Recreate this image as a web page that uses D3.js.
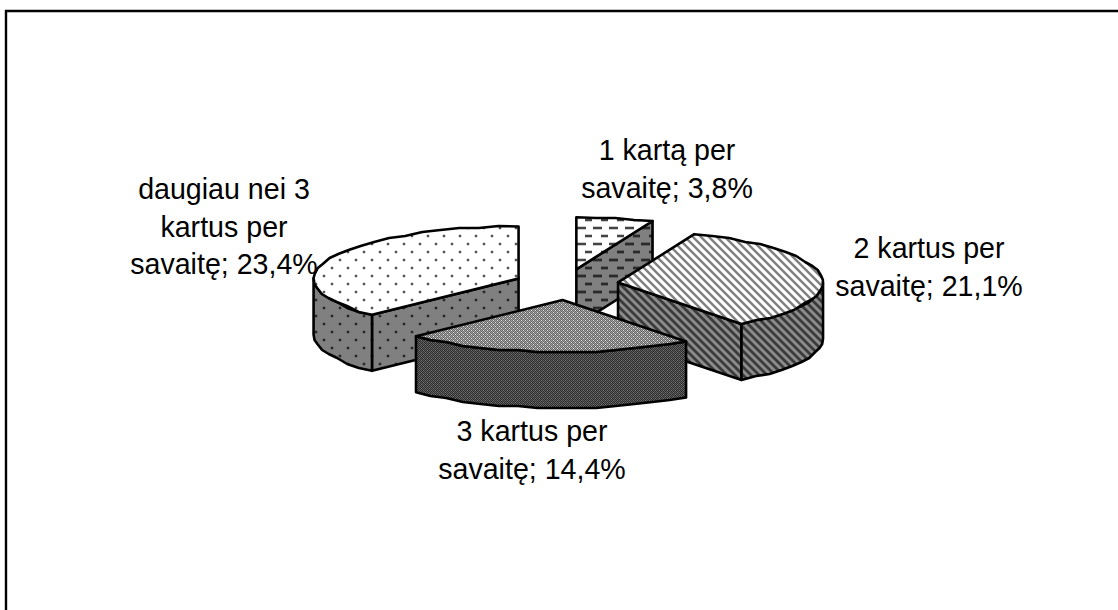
<!DOCTYPE html>
<html><head><meta charset="utf-8">
<script src="https://cdn.jsdelivr.net/npm/d3@7"></script>
<style>html,body{margin:0;padding:0;background:#fff}svg{display:block}</style>
</head><body><svg id="c" width="1118" height="610"></svg>
<script>
const categories = ["1 kartą per savaitę","2 kartus per savaitę","3 kartus per savaitę","daugiau nei 3 kartus per savaitę"];
const values = [3.8,21.1,14.4,23.4];
const valueLabels = ["3,8%","21,1%","14,4%","23,4%"];
const labelLines = [["1 kartą per","savaitę; 3,8%"],["2 kartus per","savaitę; 21,1%"],["3 kartus per","savaitę; 14,4%"],["daugiau nei 3","kartus per","savaitę; 23,4%"]];
const labelX = [667,929,532,224];
const labelY = [160,258,441,199];
const drawOrder = [0,3,1,2];

const W=1118,H=610,cx=566.5,cy=284.5,rx=205,ry=52,depth=56,exX=52,exY=15.5;
const svg=d3.select("#c");
const defs=svg.append("defs");
function pat(id,size,bg,draw){
  const p=defs.append("pattern").attr("id",id).attr("patternUnits","userSpaceOnUse").attr("width",size).attr("height",size);
  p.append("rect").attr("width",size).attr("height",size).attr("fill",bg);
  draw(p);
}
function r(p,x,y,w,h,c){p.append("rect").attr("x",x).attr("y",y).attr("width",w).attr("height",h).attr("fill",c);}
function dash(p,c,halo){
  [[1,3],[9,11]].forEach(([x,y])=>{
    r(p,x,y-1,9,4,halo);
    r(p,x,y,9,2,c);
  });
}
function hatch(p,c,w){
  p.append("path").attr("d","M-2,-2L10,10M-2,6L2,10M6,-2L10,2").attr("stroke",c).attr("stroke-width",w).attr("fill","none");
}
function checks(p,a,spot){
  r(p,0,0,1,1,a);r(p,1,1,1,1,a);r(p,2,0,1,1,a);r(p,3,1,1,1,a);
  r(p,0,2,1,1,a);r(p,1,3,1,1,a);r(p,2,2,1,1,a);r(p,3,3,1,1,a);
  r(p,1,0,1,1,spot);r(p,3,2,1,1,spot);
}
function dots(p,c,halo){
  [[3,3],[11,11]].forEach(([x,y])=>{
    r(p,x-1,y,4,2,halo);
    r(p,x,y-1,2,4,halo);
    r(p,x,y,2,2,c);
  });
}
pat("t0",16,"#fff",p=>dash(p,"#444","#ccc"));
pat("s0",16,"#808080",p=>dash(p,"#2a2a2a","#606060"));
pat("t1",8,"#fff",p=>hatch(p,"#808080",2.4));
pat("s1",8,"#8c8c8c",p=>hatch(p,"#3a3a3a",2.8));
pat("t2",4,"#a0a0a0",p=>checks(p,"#666","#e8e8e8"));
pat("s2",4,"#5c5c5c",p=>checks(p,"#2c2c2c","#7a7a7a"));
pat("t3",16,"#fff",p=>dots(p,"#555","#d8d8d8"));
pat("s3",16,"#808080",p=>dots(p,"#2a2a2a","#666"));

const xs=d3.scaleLinear().domain([-1,1]).range([-rx,rx]);
const ys=d3.scaleLinear().domain([-1,1]).range([-ry,ry]);
const arcs=d3.pie().sort(null).value(d=>d)(values);
const line=d3.line();
const g=svg.append("g");
const STEP=Math.PI/32, GRID=2;
function samples(a0,a1){
  const n=Math.max(1,Math.ceil((a1-a0)/STEP)),o=[];
  for(let i=0;i<=n;i++)o.push(a0+(a1-a0)*i/n);
  return o;
}
drawOrder.forEach(i=>{
  const a=arcs[i],mid=(a.startAngle+a.endAngle)/2;
  const ax=cx+Math.sin(mid)*exX, ay=cy-Math.cos(mid)*exY;
  const pt=(t,dz=0)=>[ax+xs(Math.sin(t)),ay+ys(-Math.cos(t))+dz];
  const rim=(t,dz=0)=>{const p=pt(t,dz);return [p[0],Math.round(p[1]/GRID)*GRID];};
  const rimPts=(ts,dz=0)=>ts.map((t,k)=>(k===0||k===ts.length-1)?pt(t,dz):rim(t,dz));
  const apex=[ax,ay],apexB=[ax,ay+depth];
  const sl=g.append("g");
  const draw=(pts,fill)=>sl.append("path").attr("d",line(pts)+"Z").attr("fill",fill).attr("stroke","#000").attr("stroke-width",2.6).attr("stroke-linejoin","round");
  if(Math.sin(a.startAngle)<-1e-6) draw([apex,pt(a.startAngle),pt(a.startAngle,depth),apexB],`url(#s${i})`);
  if(Math.sin(a.endAngle)>1e-6) draw([apex,pt(a.endAngle),pt(a.endAngle,depth),apexB],`url(#s${i})`);
  const lo=Math.max(a.startAngle,Math.PI/2),hi=Math.min(a.endAngle,Math.PI*1.5);
  if(hi>lo){
    const ts=samples(lo,hi);
    draw([...rimPts(ts),...rimPts(ts.slice().reverse(),depth)],`url(#s${i})`);
  }
  draw([apex,...rimPts(samples(a.startAngle,a.endAngle))],`url(#t${i})`);
});

svg.append("path").attr("d",`M6,610V11H1118`).attr("fill","none").attr("stroke","#000").attr("stroke-width",2.4);

const txt=svg.append("g").attr("font-family","'Liberation Sans',Arial,sans-serif").attr("font-size",28.6).attr("text-anchor","middle").attr("fill","#000");
labelLines.forEach((ls,i)=>ls.forEach((s,j)=>txt.append("text").attr("x",labelX[i]).attr("y",labelY[i]+j*37.5).text(s)));
</script></body></html>
